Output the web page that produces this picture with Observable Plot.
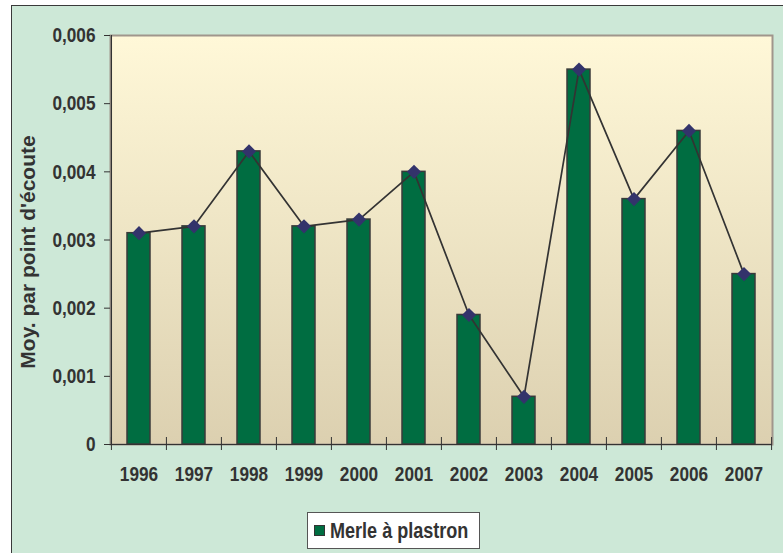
<!DOCTYPE html>
<html><head><meta charset="utf-8">
<script src="https://cdn.jsdelivr.net/npm/d3@7"></script>
<script src="https://cdn.jsdelivr.net/npm/@observablehq/plot@0.6"></script>
<style>
body{margin:0;background:#fff;}
#wrap{position:relative;width:783px;height:553px;overflow:hidden;}
#bg{position:absolute;left:11px;top:5px;width:790px;height:560px;background:#cde8d7;border-left:1.5px solid #3a3a3a;border-top:1.5px solid #3a3a3a;}
#chart{position:absolute;left:0;top:0;}
#legend{position:absolute;left:307px;top:512px;width:173px;height:37px;background:#fff;border:1px solid #555;display:flex;align-items:center;box-sizing:border-box;}
#legend .sw{width:9px;height:9px;background:#006d41;border:1px solid #333;margin-left:6px;margin-right:5px;flex:none;}
#legend .tx{font-weight:bold;color:#333;white-space:nowrap;transform-origin:left center;}
</style>
</head><body>
<div id="wrap"><div id="bg"></div><div id="chart"></div>
<div id="legend"><div class="sw"></div><div class="tx">Merle à plastron</div></div></div>
<script>
const years = ["1996","1997","1998","1999","2000","2001","2002","2003","2004","2005","2006","2007"];
const values = [0.0031,0.0032,0.0043,0.0032,0.0033,0.0040,0.0019,0.0007,0.0055,0.0036,0.0046,0.0025];
const yTicks = [0,0.001,0.002,0.003,0.004,0.005,0.006];
const yLabel = "Moy. par point d'écoute";
const seriesName = "Merle à plastron";

const data = years.map((y,i)=>({year:y, value:values[i]}));

function hasFont(name){
  const c=document.createElement("canvas").getContext("2d");
  c.font="bold 40px monospace"; const w1=c.measureText("Merle 1996 abc").width;
  c.font=`bold 40px "${name}", monospace`; const w2=c.measureText("Merle 1996 abc").width;
  return Math.abs(w1-w2)>0.5;
}
const narrow = hasFont("Liberation Sans Narrow") ? "Liberation Sans Narrow" : (hasFont("Arial Narrow") ? "Arial Narrow" : null);
const font = narrow ? `"${narrow}", "Liberation Sans", Arial, sans-serif` : `"Liberation Sans", Arial, sans-serif`;
const squeeze = narrow ? 1 : 0.82;

const W=783,H=553,ml=110,mr=11,mt=35,mb=109;
const step=(W-ml-mr)/years.length;

const defs = () => {
  const d = d3.create("svg:defs");
  const g = d.append("linearGradient").attr("id","plotbg").attr("x1",0).attr("x2",0).attr("y1",0).attr("y2",1);
  g.append("stop").attr("offset","0%").attr("stop-color","#fff8d8");
  g.append("stop").attr("offset","100%").attr("stop-color","#dcd0b0");
  return d.node();
};

const chart = Plot.plot({
  width:W, height:H, marginLeft:ml, marginRight:mr, marginTop:mt, marginBottom:mb,
  style:{background:"transparent", overflow:"visible", fontFamily:font, fontSize:"21px", fontWeight:"bold", color:"#333"},
  x:{domain:years, paddingInner:0.58, paddingOuter:0.29},
  y:{domain:[0,0.006]},
  marks:[
    defs,
    Plot.frame({fill:"url(#plotbg)", stroke:"#a0968c", strokeWidth:2}),
    Plot.barY(data,{x:"year", y:"value", fill:"#006d41", stroke:"#3a3a3a", strokeWidth:1.5}),
    Plot.ruleY([0],{stroke:"#333", strokeWidth:1.2}),
    Plot.ruleX([years[0]],{dx:-step/2, stroke:"#333", strokeWidth:1.2}),
    Plot.ruleX(years,{dx:-step/2, stroke:"#333", strokeWidth:1, insetTop:(H-mt-mb)-7, insetBottom:-6}),
    Plot.ruleX([years[years.length-1]],{dx:step/2, stroke:"#333", strokeWidth:1, insetTop:(H-mt-mb)-7, insetBottom:-6}),
    Plot.lineY(data,{x:"year", y:"value", stroke:"#333", strokeWidth:1.7}),
    Plot.dot(data,{x:"year", y:"value", symbol:"diamond2", r:6.4, fill:"#33336b", stroke:"none"}),
    Plot.axisY(yTicks,{tickSize:6, tickPadding:9, stroke:"#333", fill:"#333", label:null,
      tickFormat:d=> d===0 ? "0" : d.toFixed(3).replace(".",",")}),
    Plot.axisX({tickSize:0, tickPadding:22, fill:"#333", label:null}),
    Plot.text([yLabel],{frameAnchor:"left", textAnchor:"middle", rotate:-90, dx:-82, dy:12, fill:"#333",
      fontSize:21, fontFamily:`"Liberation Sans", Arial, sans-serif`, fontWeight:"bold"})
  ]
});
document.getElementById("chart").appendChild(chart);

if (squeeze !== 1) {
  chart.querySelectorAll("g[aria-label='x-axis tick label'] text, g[aria-label='y-axis tick label'] text").forEach(t=>{
    const L = t.getComputedTextLength();
    t.setAttribute("textLength", (L*squeeze).toFixed(2));
    t.setAttribute("lengthAdjust", "spacingAndGlyphs");
  });
}
const tx=document.querySelector("#legend .tx");
tx.style.fontFamily=font; tx.style.fontSize="22px";
if (squeeze!==1) tx.style.transform=`scaleX(${squeeze})`;
</script>
</body></html>
